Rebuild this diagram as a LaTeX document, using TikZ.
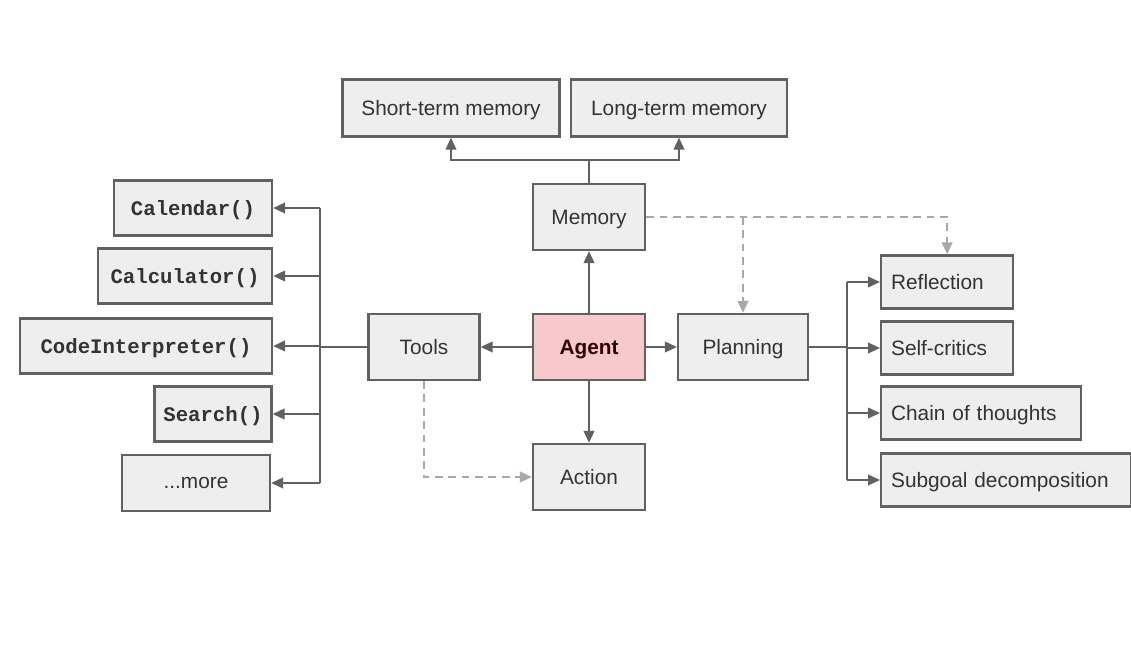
\documentclass[tikz,border=0pt]{standalone}
\usepackage{fontspec}
\setmainfont{Liberation Sans}
\newfontfamily\codefont{Liberation Mono}
\usetikzlibrary{arrows.meta,positioning}
\definecolor{boxgray}{HTML}{EEEEEE}
\definecolor{edgegray}{HTML}{616161}
\definecolor{dashgray}{HTML}{A8A8A8}
\definecolor{agentpink}{HTML}{F7C9CC}
\definecolor{textgray}{HTML}{333333}
\tikzstyle{mybox} = [draw=edgegray, fill=boxgray, line width=1.6pt,
    rectangle, text=textgray, inner sep=0pt, minimum height=1.65cm,
    text depth=0pt, font=\fontsize{14.8}{17}\selectfont]
\tikzstyle{agentbox} = [mybox, fill=agentpink, text=black!80!red,
    font=\fontsize{14.8}{17}\selectfont\bfseries]
\tikzstyle{toolbox} = [mybox, minimum height=1.375cm,
    font=\fontsize{14.7}{17}\selectfont\codefont\bfseries]
\tikzstyle{stepbox} = [mybox, anchor=west, minimum height=1.33cm,
    align=left, inner xsep=0.25cm]
\tikzstyle{link} = [draw=edgegray, line width=1.5pt]
\tikzstyle{linkArrow} = [link, -{Triangle[length=8.5pt,width=7.5pt]}]
\tikzstyle{dashArrow} = [draw=dashgray, line width=1.5pt,
    dash pattern=on 5.5pt off 4pt, -{Triangle[length=8.5pt,width=7.5pt]}]

\begin{document}
\begin{tikzpicture}[x=0.025cm, y=-0.025cm]
\useasboundingbox (0,0) rectangle (1131,645);

% centre
\node[agentbox, minimum width=2.8cm] (agent) at (589,347) {Agent};
\node[mybox, minimum width=2.8cm] (memory) at (589,217) {Memory};
\node[mybox, minimum width=2.775cm] (tools) at (424,347) {Tools};
\node[mybox, minimum width=3.25cm] (planning) at (743,347) {Planning};
\node[mybox, minimum width=2.8cm] (action) at (589,477) {Action};

% memory kinds
\node[mybox, minimum width=5.425cm, minimum height=1.425cm] (shortterm) at (451,108) {Short-term memory};
\node[mybox, minimum width=5.4cm, minimum height=1.425cm] (longterm) at (679,108) {Long-term memory};

% tools
\node[toolbox, minimum width=3.95cm] (calendar) at (193,208) {Calendar()};
\node[toolbox, minimum width=4.35cm] (calculator) at (185,276) {Calculator()};
\node[toolbox, minimum width=6.3cm] (codeint) at (146,346) {CodeInterpreter()};
\node[toolbox, minimum width=2.925cm] (search) at (213,414) {Search()};
\node[mybox, minimum width=3.7cm, minimum height=1.4cm] (more) at (196,483) {...more};

% planning steps
\node[stepbox, text width=2.8cm] (reflection) at (880,282) {Reflection};
\node[stepbox, text width=2.8cm] (selfcritics) at (880,348) {Self-critics};
\node[stepbox, text width=4.5cm] (chain) at (880,413) {Chain of thoughts};
\node[stepbox, text width=5.75cm] (subgoal) at (880,480) {Subgoal decomposition};

\coordinate (membus) at (589,160);
\coordinate (toolbus) at (320,347);
\coordinate (planbus) at (847,347);
\coordinate (planbranch) at (743,217);

\draw[linkArrow] (agent) -- (memory);
\draw[linkArrow] (agent) -- (tools);
\draw[linkArrow] (agent) -- (planning);
\draw[linkArrow] (agent) -- (action);

\draw[link] (memory) -- (membus);
\draw[linkArrow] (membus) -| (shortterm);
\draw[linkArrow] (membus) -| (longterm);

\draw[link] (tools) -- (toolbus);
\draw[link] (toolbus |- calendar) -- (toolbus |- more);
\foreach \t in {calendar,calculator,codeint,search,more}
    \draw[linkArrow] (toolbus |- \t) -- (\t);

\draw[link] (planning) -- (planbus);
\draw[link] (planbus |- reflection) -- (planbus |- subgoal);
\foreach \s in {reflection,selfcritics,chain,subgoal}
    \draw[linkArrow] (planbus |- \s) -- (\s);

\draw[dashArrow] (memory) -| (reflection);
\draw[dashArrow] (planbranch) -- (planning);
\draw[dashArrow] (tools) |- (action);
\end{tikzpicture}
\end{document}
